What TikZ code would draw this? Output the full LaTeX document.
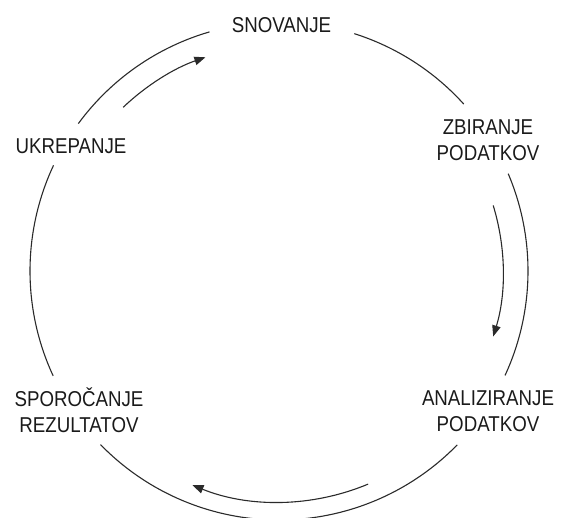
\documentclass[tikz,border=0pt]{standalone}
\usepackage{fontspec}
\setmainfont[FakeStretch=0.87]{Liberation Sans}
\usetikzlibrary{arrows.meta}
\definecolor{ink}{HTML}{1A1A1A}
\definecolor{linec}{HTML}{2A2A2A}
\begin{document}
\begin{tikzpicture}[x=1pt,y=1pt,
  lbl/.style={text=ink,align=center,inner sep=0pt,font=\fontsize{21.5}{26}\selectfont},
  ring/.style={draw=linec,line width=1.1pt},
  flow/.style={draw=linec,line width=1.1pt,-{Triangle[length=11pt,width=8.5pt]}}]
\useasboundingbox (0,0) rectangle (562,518);
\clip (0,0) rectangle (562,518);
\coordinate (C) at (279,247);
\node[lbl] (snov) at (281.5,493) {SNOVANJE};
\node[lbl] (zbir) at (488,378) {ZBIRANJE\\PODATKOV};
\node[lbl] (anal) at (488,106.5) {ANALIZIRANJE\\PODATKOV};
\node[lbl] (spor) at (79,108) {SPOROČANJE\\REZULTATOV};
\node[lbl] (ukre) at (71,372) {UKREPANJE};
% outer ring pieces
\draw[ring] ([shift={(143.7:249pt)}]C) arc[start angle=143.7,end angle=106.2,radius=249pt];
\draw[ring] ([shift={(72.4:249pt)}]C) arc[start angle=72.4,end angle=42.1,radius=249pt];
\draw[ring] ([shift={(23:249pt)}]C) arc[start angle=23,end angle=-24.8,radius=249pt];
\draw[ring] ([shift={(-44.3:249pt)}]C) arc[start angle=-44.3,end angle=-135.8,radius=249pt];
\draw[ring] ([shift={(204.9:249pt)}]C) arc[start angle=204.9,end angle=154.9,radius=249pt];
% inner arrows
\draw[flow] ([shift={(17:224pt)}]C) arc[start angle=17,end angle=-17,radius=224pt];
\draw[flow] ([shift={(-67.3:231pt)}]C) arc[start angle=-67.3,end angle=-112,radius=231pt];
\draw[flow] ([shift={(133.6:226pt)}]C) arc[start angle=133.6,end angle=109,radius=226pt];
\end{tikzpicture}
\end{document}
